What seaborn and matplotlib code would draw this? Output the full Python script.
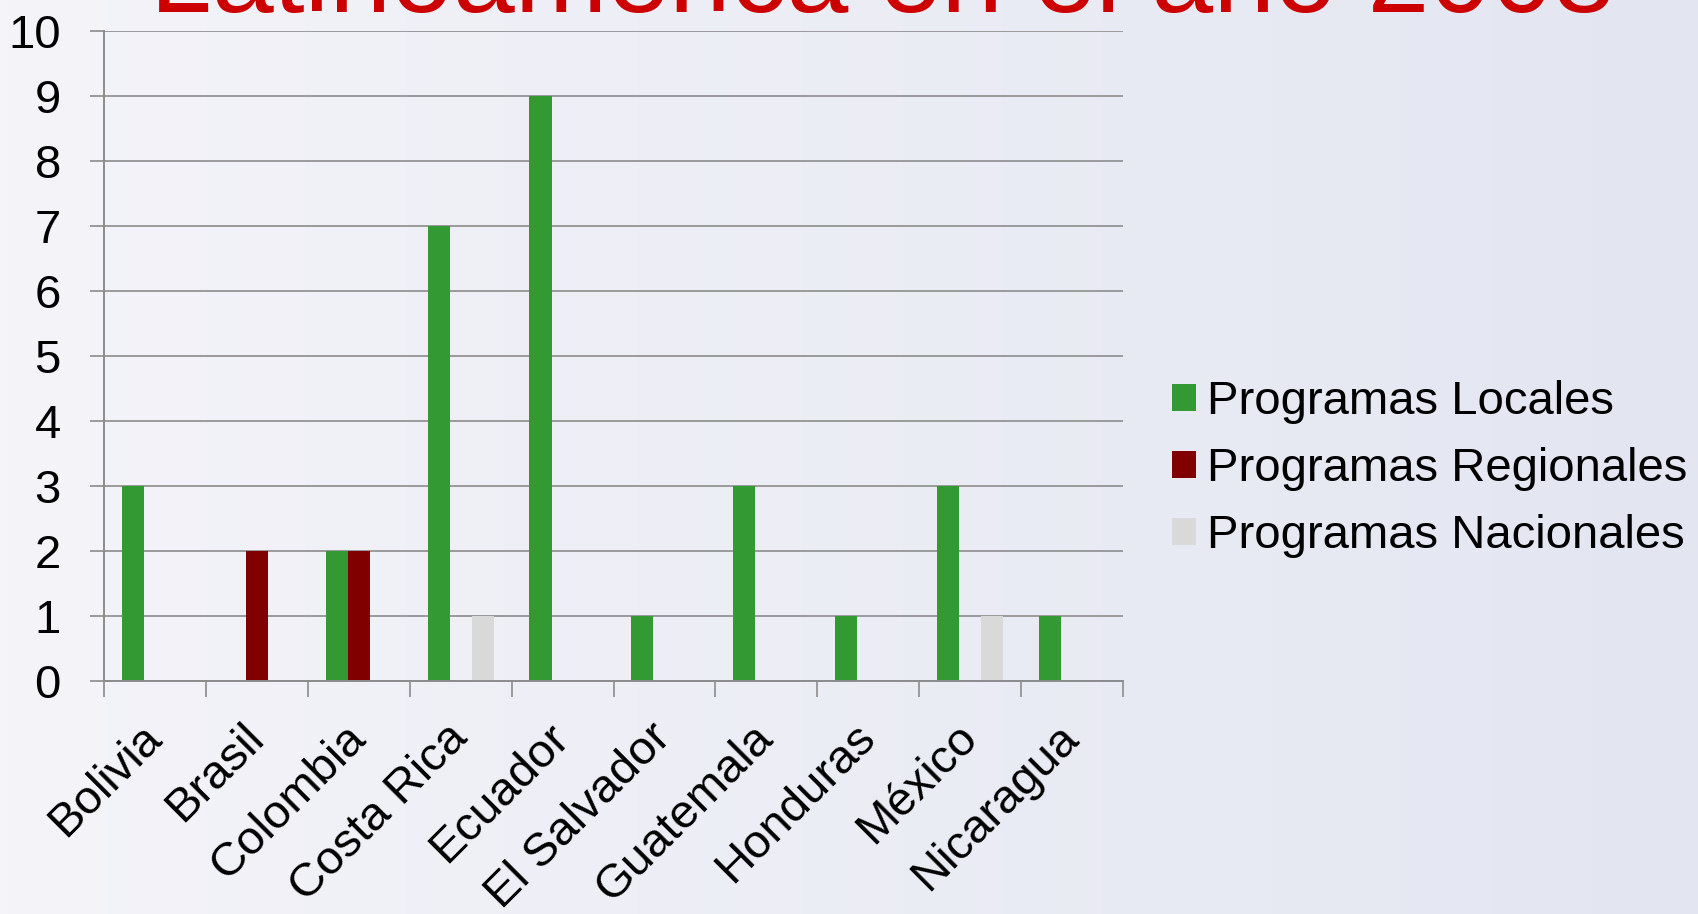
import numpy as np
import pandas as pd
import matplotlib
matplotlib.use("Agg")
import matplotlib.pyplot as plt
import seaborn as sns

# datos del grafico
paises = ['Bolivia', 'Brasil', 'Colombia', 'Costa Rica', 'Ecuador',
          'El Salvador', 'Guatemala', 'Honduras', 'México', 'Nicaragua']
series = ['Programas Locales', 'Programas Regionales', 'Programas Nacionales']
locales = [3, 0, 2, 7, 9, 1, 3, 1, 3, 1]
regionales = [0, 2, 2, 0, 0, 0, 0, 0, 0, 0]
nacionales = [0, 0, 0, 1, 0, 0, 0, 0, 1, 0]
colores = ['#339933', '#800000', '#d9d9d9']
y_ticks = list(range(0, 11))
titulo = 'Latinoamérica en el año 2008'

df = pd.DataFrame({
    'pais': paises * 3,
    'serie': [series[0]] * 10 + [series[1]] * 10 + [series[2]] * 10,
    'valor': locales + regionales + nacionales,
})

sns.set_theme(style='white')
plt.rcParams['font.family'] = ['Liberation Sans', 'DejaVu Sans']

W, H = 1698, 914
fig = plt.figure(figsize=(W / 100, H / 100), dpi=100)

# fondo claro azulado
bg = fig.add_axes([0, 0, 1, 1], zorder=-10)
grad = np.linspace(0, 1, 256)[None, :]
cmap_bg = matplotlib.colors.LinearSegmentedColormap.from_list('bg', ['#f4f4f9', '#e3e6f1'])
bg.imshow(grad, aspect='auto', cmap=cmap_bg, extent=[0, 1, 0, 1])
bg.set_axis_off()

ax = fig.add_axes([104 / W, 1 - 681 / H, (1123 - 104) / W, (681 - 31) / H])
ax.patch.set_alpha(0)

sns.barplot(data=df, x='pais', y='valor', hue='serie', palette=colores,
            width=0.65, gap=0, linewidth=0, saturation=1, ax=ax, legend=True)

ax.set_xlim(-0.5, len(paises) - 0.5)
ax.set_ylim(0, 10)
ax.set_yticks(y_ticks)
ax.yaxis.grid(True, color='#9a9a9a', lw=1.4)
ax.set_axisbelow(True)
ax.set_xlabel('')
ax.set_ylabel('')

for s in ['top', 'right']:
    ax.spines[s].set_visible(False)
for s in ['left', 'bottom']:
    ax.spines[s].set_color('#8c8c8c')
    ax.spines[s].set_linewidth(1.4)

ax.tick_params(axis='y', length=10, width=1.4, color='#9a9a9a', pad=21,
               labelsize=34, labelcolor='black', left=True)
ax.set_xticks(range(len(paises)))
ax.set_xticks(np.arange(-0.5, len(paises)), minor=True)
ax.tick_params(axis='x', which='major', length=0, pad=36, labelsize=34, labelcolor='black')
ax.tick_params(axis='x', which='minor', length=11.5, width=1.4, color='#9a9a9a', bottom=True)
for lab in ax.get_xticklabels():
    lab.set_rotation(45)
    lab.set_ha('right')
    lab.set_va('center')
    lab.set_rotation_mode('anchor')

handles, labels = ax.get_legend_handles_labels()
ax.get_legend().remove()
leg = fig.legend(handles, labels, loc='center left', bbox_to_anchor=(1172 / W, 1 - 469 / H),
                 frameon=False, fontsize=34, handlelength=0.5, handleheight=0.5,
                 handletextpad=0.25, labelspacing=0.49, borderpad=0, borderaxespad=0)
for t in leg.get_texts():
    t.set_color('black')

fig.text(883 / W, 1 - 12 / H, titulo, ha='center', va='baseline',
         color='#cc0000', fontsize=80)

fig.savefig('out.png', dpi=100)
